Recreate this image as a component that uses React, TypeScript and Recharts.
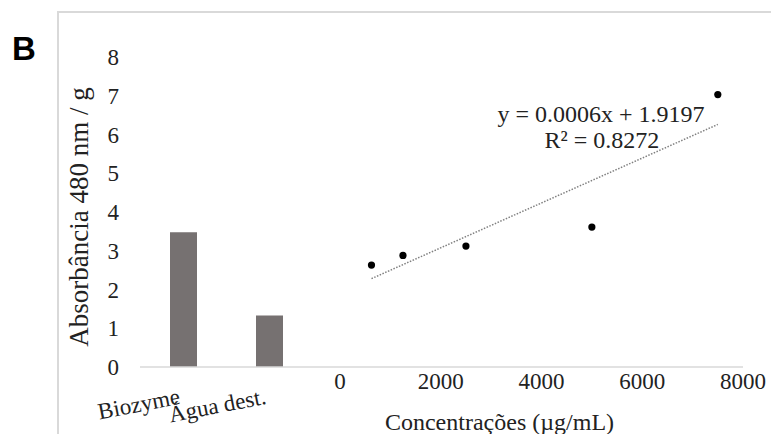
import React from 'react';
import {
  ComposedChart,
  Bar,
  Scatter,
  XAxis,
  YAxis,
  ReferenceLine,
  ReferenceDot,
} from 'recharts';

// controls (bars)
const controlNames = ['Biozyme', 'Água dest.'];
const controlValues = [3.48, 1.33];

// concentrations (scatter)
const concValues = [625, 1250, 2500, 5000, 7500];
const absValues = [2.63, 2.88, 3.12, 3.61, 7.03];

// trendline ends
const trendX = [625, 7500];
const trendY = [2.28, 6.26];

const yTicks = [0, 1, 2, 3, 4, 5, 6, 7, 8];
const xTicks = [0, 2000, 4000, 6000, 8000];

const eqText = 'y = 0.0006x + 1.9197';
const r2Text = 'R² = 0.8272';

const barData = controlNames.map((name, i) => ({ name, value: controlValues[i] }));
const scatterData = concValues.map((x, i) => ({ x, y: absValues[i] }));
const trendSegment = trendX.map((x, i) => ({ x, y: trendY[i] }));

const FONT = '"Liberation Serif", "Times New Roman", serif';
const TEXT = '#222';
const AXIS = '#d9d9d9';
const serif = { fontFamily: FONT };

function CategoryTick(props: any) {
  const { x, y, payload } = props;
  return (
    <g transform={`translate(${x},${y}) rotate(-11)`}>
      <text x={-5} y={0} dy={16} textAnchor="end" fontSize={23} fill={TEXT} style={serif}>
        {payload.value}
      </text>
    </g>
  );
}

function NumTick(props: any) {
  const { x, y, payload } = props;
  return (
    <text x={x} y={y} dy={15} textAnchor="middle" fontSize={23} fill={TEXT} style={serif}>
      {payload.value}
    </text>
  );
}

function YTick(props: any) {
  const { x, y, payload } = props;
  return (
    <text x={x} y={y} dy={8} textAnchor="end" fontSize={23} fill={TEXT} style={serif}>
      {payload.value}
    </text>
  );
}

const Dot = (props: any) => <circle cx={props.cx} cy={props.cy} r={3.6} fill="#000" />;

export default function App() {
  return (
    <div
      style={{
        position: 'absolute',
        left: 0,
        top: 0,
        width: 771,
        height: 434,
        background: '#fff',
        overflow: 'hidden',
        fontFamily: FONT,
      }}
    >
      <div
        style={{
          position: 'absolute',
          left: 57,
          top: 11,
          width: 760,
          height: 460,
          border: `2px solid ${AXIS}`,
        }}
      />
      <div
        style={{
          position: 'absolute',
          left: 12,
          top: 30,
          fontFamily: '"Liberation Sans", Arial, sans-serif',
          fontWeight: 'bold',
          fontSize: 33,
          color: '#000',
        }}
      >
        B
      </div>
      <ComposedChart
        width={771}
        height={434}
        data={barData}
        margin={{ top: 57, right: 28, left: 0, bottom: 0 }}
        style={{ position: 'absolute', left: 0, top: 0 }}
      >
        <XAxis
          xAxisId="cat"
          dataKey="name"
          type="category"
          height={1}
          padding={{ left: 0, right: 431 }}
          axisLine={{ stroke: AXIS, strokeWidth: 1.5 }}
          tickLine={false}
          tickMargin={14}
          tick={(p: any) => <CategoryTick {...p} />}
          interval={0}
        />
        <XAxis
          xAxisId="num"
          dataKey="x"
          type="number"
          domain={[0, 8000]}
          ticks={xTicks}
          height={66}
          padding={{ left: 200, right: 0 }}
          axisLine={false}
          tickLine={false}
          tickMargin={0}
          tick={(p: any) => <NumTick {...p} />}
          label={{
            value: 'Concentrações (µg/mL)',
            position: 'insideBottom',
            offset: 4,
            dx: 58,
            fontSize: 24,
            fill: TEXT,
            style: serif,
          }}
        />
        <YAxis
          type="number"
          domain={[0, 8]}
          ticks={yTicks}
          width={140}
          axisLine={false}
          tickLine={false}
          tickMargin={15}
          tick={(p: any) => <YTick {...p} />}
          label={{
            value: 'Absorbância 480 nm / g',
            angle: -90,
            position: 'center',
            dx: 8,
            dy: 5,
            fontSize: 27,
            fill: TEXT,
            style: serif,
          }}
        />
        <Bar
          xAxisId="cat"
          dataKey="value"
          barSize={27}
          fill="#767171"
          isAnimationActive={false}
        />
        <ReferenceLine
          xAxisId="num"
          segment={trendSegment}
          stroke="#808080"
          strokeWidth={1.5}
          strokeDasharray="1.5 1.5"
        />
        <Scatter
          xAxisId="num"
          data={scatterData}
          dataKey="y"
          shape={(p: any) => <Dot {...p} />}
          isAnimationActive={false}
        />
        <ReferenceDot
          xAxisId="num"
          x={5180}
          y={6.55}
          r={0}
          fill="none"
          stroke="none"
          label={{ value: eqText, position: 'center', fontSize: 24, fill: TEXT, style: serif }}
        />
        <ReferenceDot
          xAxisId="num"
          x={5200}
          y={5.86}
          r={0}
          fill="none"
          stroke="none"
          label={{ value: r2Text, position: 'center', fontSize: 24, fill: TEXT, style: serif }}
        />
      </ComposedChart>
    </div>
  );
}
